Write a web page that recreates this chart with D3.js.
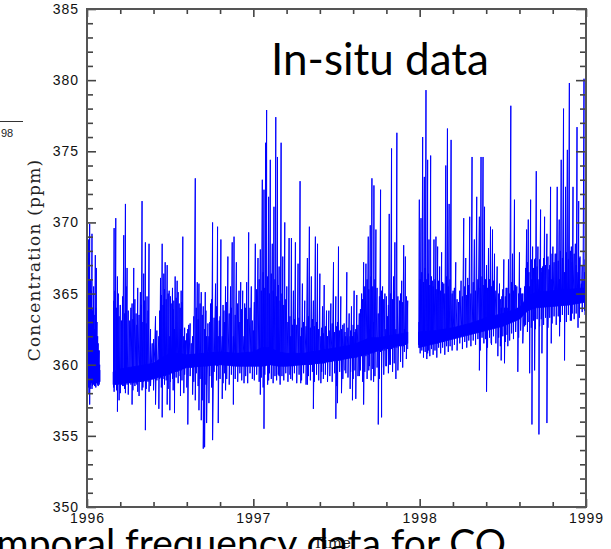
<!DOCTYPE html>
<html><head><meta charset="utf-8">
<script src="https://cdn.jsdelivr.net/npm/d3@7"></script>
<style>
html,body{margin:0;padding:0;background:#fff;overflow:hidden;}
svg{display:block;}
</style></head>
<body>
<svg id="chart" width="611" height="549"></svg>
<script>
// ---- data: [year, spike value, low value] (ppm) ----
const segment1 = [
[1996.002,366.0,358.5],[1996.006,367.5,358.0],[1996.010,368.8,358.4],[1996.016,369.9,357.2],
[1996.022,366.0,358.6],[1996.030,369.2,358.3],[1996.036,364.0,358.7],[1996.040,365.5,358.6],
[1996.046,362.5,358.5],[1996.050,367.7,358.5],[1996.056,366.8,358.7],[1996.064,362.0,358.6],
[1996.070,361.0,358.9],[1996.076,360.0,358.8]
];
const segment2 = [
[1996.163,369.6,358.1],[1996.173,370.3,358.6],[1996.183,366.2,356.7],[1996.193,363.4,357.5],
[1996.207,363.1,358.6],[1996.221,369.1,358.5],[1996.231,371.3,358.0],[1996.241,366.8,358.6],
[1996.257,363.1,358.7],[1996.271,364.3,357.2],[1996.281,366.8,358.7],[1996.295,363.6,358.7],
[1996.305,365.4,358.1],[1996.321,365.1,358.8],[1996.331,371.5,358.2],[1996.341,366.4,358.8],
[1996.351,368.6,355.4],[1996.361,364.8,358.9],[1996.373,368.5,358.1],[1996.392,361.5,359.0],
[1996.412,363.4,357.2],[1996.432,362.0,356.9],[1996.442,366.1,359.1],[1996.452,368.5,356.3],
[1996.462,366.4,359.2],[1996.470,367.2,359.2],[1996.482,367.0,357.2],[1996.494,365.2,359.3],
[1996.498,362.0,356.8],[1996.506,364.3,359.4],[1996.522,364.5,359.4],[1996.526,362.5,356.6],
[1996.530,366.2,359.5],[1996.542,365.9,359.5],[1996.554,364.3,359.6],[1996.562,362.5,357.8],
[1996.566,365.2,359.6],[1996.576,369.0,359.7],[1996.582,362.0,358.0],[1996.592,361.7,359.8],
[1996.606,362.5,355.8],[1996.612,362.8,359.8],[1996.627,361.5,359.8],[1996.635,362.0,357.9],
[1996.651,373.1,357.5],[1996.663,365.8,359.9],[1996.673,365.7,356.8],[1996.687,365.1,356.1],
[1996.699,364.1,354.1],[1996.707,362.5,354.2],[1996.711,365.1,359.9],[1996.719,362.0,355.9],
[1996.727,362.9,359.9],[1996.733,362.0,357.3],[1996.743,364.3,360.0],[1996.755,370.0,354.7],
[1996.773,365.7,360.0],[1996.785,369.7,359.9],[1996.789,362.0,355.9],[1996.795,363.1,360.0],
[1996.805,368.8,360.0],[1996.813,362.0,357.6],[1996.823,363.8,360.0],[1996.833,365.5,358.2],
[1996.847,367.6,360.0],[1996.863,365.5,360.0],[1996.873,368.6,359.9],[1996.880,362.0,357.2],
[1996.884,369.0,359.9],[1996.898,367.2,359.9],[1996.914,365.2,359.9],[1996.924,365.8,359.9],
[1996.936,365.2,359.9],[1996.944,362.0,358.7],[1996.948,364.3,359.9],[1996.960,365.8,359.9],
[1996.972,369.3,359.9],[1996.988,365.5,359.9],[1997.000,362.4,359.9],[1997.012,368.5,359.9],
[1997.028,367.5,359.9],[1997.042,368.1,357.9],[1997.054,373.0,359.9],[1997.064,372.3,355.5],
[1997.074,375.6,359.9],[1997.080,377.9,360.0],[1997.092,371.8,358.9],[1997.102,374.4,360.0],
[1997.114,368.5,360.0],[1997.124,371.1,360.0],[1997.135,377.4,360.0],[1997.145,374.6,360.0],
[1997.155,366.9,359.2],[1997.167,375.6,360.0],[1997.177,367.6,359.9],[1997.189,370.0,359.9],
[1997.201,365.5,359.9],[1997.215,368.9,359.9],[1997.225,362.0,359.0],[1997.229,368.9,359.9],
[1997.241,365.2,359.9],[1997.253,368.6,360.0],[1997.269,367.1,360.0],[1997.281,372.9,360.0],
[1997.285,362.0,358.7],[1997.295,365.7,360.0],[1997.309,364.5,360.0],[1997.325,367.5,358.6],
[1997.337,369.7,360.0],[1997.349,366.2,360.0],[1997.361,364.5,356.9],[1997.373,369.0,360.1],
[1997.386,368.5,360.1],[1997.400,366.4,360.1],[1997.406,362.0,358.7],[1997.416,364.1,360.1],
[1997.426,365.6,360.1],[1997.440,363.8,360.2],[1997.446,362.0,358.8],[1997.454,363.8,360.2],
[1997.466,364.3,360.2],[1997.482,367.2,360.3],[1997.496,364.8,356.2],[1997.506,363.0,357.3],
[1997.512,368.3,360.3],[1997.526,364.8,360.3],[1997.530,362.5,358.0],[1997.546,362.9,360.4],
[1997.556,362.0,359.4],[1997.562,366.5,360.4],[1997.576,363.6,360.5],[1997.582,362.0,358.3],
[1997.590,364.1,360.5],[1997.596,362.0,357.5],[1997.606,365.2,360.5],[1997.616,362.5,357.6],
[1997.622,364.9,360.5],[1997.637,363.6,359.2],[1997.651,365.0,360.6],[1997.663,367.2,357.2],
[1997.677,367.1,360.6],[1997.691,369.0,360.7],[1997.697,362.5,359.9],[1997.703,369.8,360.8],
[1997.713,373.1,360.8],[1997.723,363.0,358.8],[1997.725,372.6,360.8],[1997.737,369.5,360.9],
[1997.751,363.6,355.8],[1997.765,372.3,360.9],[1997.771,362.5,356.3],[1997.777,365.5,361.0],
[1997.791,365.0,361.0],[1997.797,362.5,359.9],[1997.807,363.4,361.1],[1997.817,370.6,360.0],
[1997.831,375.2,361.1],[1997.843,366.2,361.2],[1997.851,368.6,361.2],[1997.857,362.5,359.0],
[1997.863,376.3,361.2],[1997.879,364.5,361.3],[1997.892,365.9,361.3],[1997.904,368.4,361.3],
[1997.908,362.5,360.9],[1997.914,367.6,361.4],[1997.928,364.5,361.1]
];
const segment3 = [
[1997.995,363.0,361.4],[1997.998,371.6,361.4],[1998.008,370.3,361.5],[1998.018,376.0,361.5],
[1998.028,373.2,361.5],[1998.038,379.3,361.5],[1998.048,374.4,360.8],[1998.056,368.8,361.5],
[1998.066,374.7,361.5],[1998.076,365.9,361.5],[1998.086,368.8,361.6],[1998.098,369.0,361.6],
[1998.108,368.3,361.5],[1998.120,366.9,361.7],[1998.132,367.9,361.7],[1998.145,365.7,361.6],
[1998.157,374.0,361.8],[1998.167,376.6,361.8],[1998.177,371.3,361.8],[1998.189,375.8,361.9],
[1998.201,365.2,362.0],[1998.217,367.2,362.0],[1998.233,364.4,362.1],[1998.249,365.9,362.1],
[1998.265,370.3,362.2],[1998.277,367.5,362.2],[1998.289,366.1,362.3],[1998.301,370.4,362.3],
[1998.315,374.6,362.3],[1998.329,368.8,362.4],[1998.343,371.8,362.4],[1998.359,370.4,359.6],
[1998.369,374.6,362.5],[1998.381,374.6,362.5],[1998.390,371.1,362.5],[1998.402,367.0,358.1],
[1998.414,368.2,362.6],[1998.426,369.7,362.6],[1998.430,363.5,361.5],[1998.438,369.5,362.6],
[1998.450,367.8,362.7],[1998.466,366.9,362.7],[1998.470,363.5,360.6],[1998.480,365.7,362.8],
[1998.490,364.0,360.3],[1998.494,364.8,362.8],[1998.506,367.4,362.8],[1998.510,364.0,360.1],
[1998.520,365.4,362.9],[1998.530,364.0,361.3],[1998.534,367.4,362.9],[1998.548,378.2,363.0],
[1998.558,367.8,363.0],[1998.570,371.6,363.1],[1998.584,365.5,363.2],[1998.590,364.0,359.5],
[1998.600,367.9,363.3],[1998.614,365.0,363.4],[1998.631,365.5,362.7],[1998.643,369.5,363.8],
[1998.653,370.2,364.0],[1998.661,365.5,359.4],[1998.667,371.6,364.0],[1998.675,366.0,355.8],
[1998.679,368.3,364.0],[1998.691,367.4,359.6],[1998.701,373.6,364.1],[1998.711,368.3,364.1],
[1998.717,366.0,355.1],[1998.727,370.9,364.1],[1998.735,366.5,360.8],[1998.739,366.9,364.2],
[1998.751,370.4,364.2],[1998.765,369.2,355.9],[1998.777,366.7,364.2],[1998.787,372.5,364.3],
[1998.791,366.0,361.5],[1998.801,368.3,364.3],[1998.815,367.8,364.3],[1998.827,372.5,364.3],
[1998.839,370.2,364.4],[1998.841,366.0,362.0],[1998.851,374.4,364.4],[1998.865,378.0,364.4],
[1998.871,366.5,360.3],[1998.877,372.5,364.5],[1998.888,375.1,364.5],[1998.900,379.8,364.5],
[1998.912,368.3,363.1],[1998.922,372.5,364.6],[1998.936,368.5,364.6],[1998.946,376.7,364.6],
[1998.952,366.5,362.6],[1998.956,371.5,364.7],[1998.964,367.6,364.7],[1998.972,365.7,364.7],
[1998.982,365.9,364.8],[1998.988,380.1,364.8],[1998.992,366.5,363.8],[1998.998,366.0,364.5]
];
// smaller excursions between the large spikes: [year, high, low] (ppm)
const grass1 = [
[1996.004,364.5,358.6],[1996.013,365.0,358.9],[1996.019,364.2,358.3],[1996.026,365.2,358.8],
[1996.033,363.8,358.5],[1996.043,363.5,358.9],[1996.053,364.0,358.4],[1996.060,363.0,358.8],
[1996.067,361.5,358.5],[1996.073,361.0,358.6]
];
const grass2 = [
[1996.160,364.5,358.4],[1996.168,365.2,358.9],[1996.178,364.0,358.2],[1996.188,365.0,358.6],
[1996.200,364.2,358.0],[1996.214,364.8,358.5],[1996.226,363.6,358.3],[1996.236,365.5,358.7],
[1996.248,363.8,357.9],[1996.264,364.0,358.6],[1996.276,363.2,358.2],[1996.288,364.6,358.5],
[1996.300,362.8,358.6],[1996.313,363.5,357.8],[1996.326,364.2,358.8],[1996.336,363.0,358.4],
[1996.346,364.5,358.9],[1996.356,362.9,358.3],[1996.367,363.8,358.8],[1996.382,362.5,358.5],
[1996.400,361.8,358.2],[1996.420,362.4,358.9],[1996.437,363.8,359.0],[1996.447,364.9,358.4],
[1996.457,364.2,359.0],[1996.466,365.3,358.6],[1996.476,364.6,358.9],[1996.488,365.0,358.3],
[1996.502,364.8,358.8],[1996.514,365.4,359.0],[1996.518,363.9,358.2],[1996.536,364.7,359.1],
[1996.548,365.1,358.7],[1996.560,364.0,359.2],[1996.571,364.4,358.9],[1996.587,362.6,359.3],
[1996.600,362.2,358.4],[1996.620,362.9,359.2],[1996.642,363.4,358.8],[1996.657,364.0,359.4],
[1996.668,363.2,358.5],[1996.680,364.3,359.0],[1996.693,363.5,357.5],[1996.715,363.8,358.6],
[1996.738,363.0,359.2],[1996.749,364.6,358.4],[1996.764,363.3,359.5],[1996.779,364.1,358.9],
[1996.800,363.4,359.0],[1996.818,364.2,358.7],[1996.828,363.0,359.4],[1996.840,364.4,359.0],
[1996.855,363.6,358.6],[1996.868,364.0,359.3],[1996.891,363.5,359.0],[1996.906,364.3,358.8],
[1996.919,363.0,359.4],[1996.930,363.9,358.9],[1996.954,364.0,359.2],[1996.966,363.2,358.7],
[1996.980,364.0,359.4],[1996.994,363.1,359.0],[1997.006,364.4,358.9],[1997.020,365.3,359.3],
[1997.035,366.0,358.8],[1997.048,365.2,359.1],[1997.059,366.5,358.4],[1997.069,365.4,359.3],
[1997.086,366.2,358.6],[1997.097,365.0,359.4],[1997.108,366.4,359.0],[1997.119,365.2,358.7],
[1997.130,366.0,359.2],[1997.140,364.8,358.9],[1997.150,365.6,359.3],[1997.161,364.5,358.6],
[1997.172,365.0,359.2],[1997.183,364.2,358.9],[1997.195,364.6,359.4],[1997.208,363.0,358.8],
[1997.220,363.4,359.3],[1997.235,362.8,358.9],[1997.247,363.2,359.4],[1997.261,362.8,358.7],
[1997.275,363.3,359.3],[1997.290,362.6,358.9],[1997.302,363.0,359.4],[1997.317,362.7,358.6],
[1997.331,363.4,359.2],[1997.343,362.6,358.9],[1997.355,363.2,359.5],[1997.367,362.7,358.8],
[1997.380,363.0,359.3],[1997.393,362.5,358.9],[1997.411,362.6,359.5],[1997.421,362.2,359.0],
[1997.433,362.7,359.3],[1997.460,362.4,359.2],[1997.474,362.9,358.8],[1997.489,362.3,359.4],
[1997.501,362.7,358.5],[1997.519,362.4,359.5],[1997.538,362.8,359.0],[1997.551,362.3,359.6],
[1997.569,362.6,359.1],[1997.585,362.4,359.5],[1997.600,362.8,359.0],[1997.611,362.3,359.6],
[1997.629,362.8,359.2],[1997.644,363.9,359.6],[1997.657,364.6,358.8],[1997.670,365.5,359.5],
[1997.684,366.0,359.0],[1997.694,365.3,359.6],[1997.708,366.2,358.9],[1997.718,365.5,359.7],
[1997.731,366.0,359.2],[1997.744,365.4,359.8],[1997.758,364.8,359.0],[1997.771,365.2,359.8],
[1997.784,364.6,359.3],[1997.800,364.8,359.9],[1997.812,364.2,359.4],[1997.824,365.0,360.0],
[1997.837,364.6,359.5],[1997.847,365.2,360.1],[1997.869,364.8,359.6],[1997.885,365.0,360.2],
[1997.898,364.4,359.8],[1997.920,364.8,360.4]
];
const grass3 = [
[1998.003,366.0,360.8],[1998.013,366.5,361.0],[1998.023,365.8,360.5],[1998.033,366.8,360.9],
[1998.043,366.0,360.4],[1998.052,366.4,361.0],[1998.061,365.6,360.6],[1998.071,366.2,361.1],
[1998.081,365.5,360.7],[1998.092,366.0,361.0],[1998.103,365.3,360.5],[1998.114,365.9,361.2],
[1998.126,365.2,360.8],[1998.138,365.8,361.2],[1998.151,365.0,360.7],[1998.162,366.2,361.3],
[1998.172,365.5,360.9],[1998.183,366.0,361.3],[1998.195,365.0,361.0],[1998.209,365.4,361.4],
[1998.225,364.6,361.0],[1998.241,365.2,361.5],[1998.257,364.8,361.1],[1998.271,365.5,361.6],
[1998.283,364.9,361.2],[1998.295,365.6,361.7],[1998.308,365.0,361.3],[1998.322,365.8,361.7],
[1998.336,365.2,361.4],[1998.350,366.0,361.8],[1998.364,365.4,361.0],[1998.375,366.2,361.9],
[1998.386,365.6,361.5],[1998.396,366.0,361.8],[1998.408,365.4,361.2],[1998.420,366.0,361.9],
[1998.432,365.5,361.4],[1998.444,365.9,362.0],[1998.458,365.2,361.5],[1998.475,365.0,361.9],
[1998.485,364.6,361.3],[1998.500,365.3,362.0],[1998.515,364.8,361.6],[1998.525,365.4,362.1],
[1998.541,365.0,361.7],[1998.553,365.8,362.2],[1998.564,365.2,361.8],[1998.577,365.6,362.3],
[1998.595,365.0,361.9],[1998.607,365.4,362.4],[1998.620,365.0,361.5],[1998.637,366.8,362.8],
[1998.648,367.2,362.3],[1998.657,366.5,363.0],[1998.671,367.4,362.6],[1998.685,366.8,363.1],
[1998.696,367.5,362.5],[1998.706,366.9,363.2],[1998.721,367.4,362.7],[1998.731,366.8,363.2],
[1998.745,367.5,362.8],[1998.757,367.0,363.3],[1998.771,367.6,362.6],[1998.782,367.0,363.3],
[1998.796,367.8,362.9],[1998.808,367.2,363.4],[1998.821,367.8,362.8],[1998.833,367.3,363.4],
[1998.846,368.0,363.0],[1998.858,367.5,363.5],[1998.882,367.9,363.0],[1998.894,367.4,363.5],
[1998.906,368.0,363.1],[1998.917,367.2,363.6],[1998.929,367.8,363.2],[1998.941,367.0,363.6],
[1998.960,367.5,363.3],[1998.977,367.0,363.7],[1998.995,367.4,363.5]
];
// dense core band of the record: [year, lower edge, upper edge] (ppm)
const coreBand1 = [[1996.000,358.8,361.0],[1996.040,358.7,360.5],[1996.078,358.8,359.6]];
const coreBand2 = [
[1996.157,358.6,359.5],[1996.200,358.7,359.7],[1996.300,358.8,359.9],[1996.400,359.0,360.1],
[1996.450,359.2,360.5],[1996.500,359.4,360.8],[1996.550,359.6,360.8],[1996.600,359.8,360.7],
[1996.700,359.9,360.8],[1996.800,360.0,360.9],[1996.900,359.9,360.8],[1997.000,359.9,360.9],
[1997.050,359.9,361.2],[1997.100,360.0,361.2],[1997.150,359.9,360.9],[1997.200,359.9,360.8],
[1997.300,360.0,360.8],[1997.400,360.1,361.0],[1997.500,360.3,361.2],[1997.600,360.5,361.4],
[1997.700,360.8,361.9],[1997.750,361.0,361.9],[1997.800,361.2,362.0],[1997.900,361.4,362.2],
[1997.928,361.5,362.3]
];
const coreBand3 = [
[1997.994,361.2,362.3],[1998.100,361.5,362.4],[1998.200,361.8,362.6],[1998.300,362.1,362.9],
[1998.400,362.4,363.3],[1998.500,362.7,363.6],[1998.600,363.2,364.0],[1998.650,363.8,364.8],
[1998.700,364.0,365.1],[1998.800,364.1,365.2],[1998.900,364.2,365.3],[1999.000,364.4,365.4]
];
const yearTicks = [1996, 1997, 1998, 1999];
const ppmTicks = [350, 355, 360, 365, 370, 375, 380, 385];
const xTitle = "Time";
const yTitle = "Concentration (ppm)";
const panelLabel = "In-situ data";
const slideText = "Temporal frequency data for CO";

// ---- drawing ----
const svg = d3.select("#chart");
const L = 87, R = 586, T = 9, B = 507;
const x = d3.scaleLinear().domain([1996, 1999]).range([L, R]);
const y = d3.scaleLinear().domain([350, 385]).range([B, T]);
const blue = "#0000ff";

const g = svg.append("g");
svg.append("clipPath").attr("id","pc").append("rect")
  .attr("x",L).attr("y",T).attr("width",R-L).attr("height",B-T);

const area = d3.area().x(d=>x(d[0])).y0(d=>y(d[1])).y1(d=>y(d[2]));
const line = d3.line().x(d=>x(d[0])).y(d=>y(d[1]));
const plot = g.append("g").attr("clip-path","url(#pc)");
[coreBand1, coreBand2, coreBand3].forEach(b=>{
  plot.append("path").attr("d", area(b)).attr("fill", blue).attr("stroke", blue).attr("stroke-width",0.8);
});
[[segment1, grass1], [segment2, grass2], [segment3, grass3]].forEach(([seg, gr])=>{
  const all = seg.concat(gr).sort((a,b)=>a[0]-b[0]);
  const pts = [];
  all.forEach(s=>{ pts.push([s[0], s[1]]); pts.push([s[0], s[2]]); });
  plot.append("path").attr("d", line(pts)).attr("fill","none")
    .attr("stroke", blue).attr("stroke-width", 1).attr("stroke-linejoin","miter");
});

// axes
const tickColor = "#444";
const minorY = d3.range(350, 386, 1).filter(v=>v%5!==0);
const minorX = d3.range(0, 16).map(i=>1996 + i*0.2).filter(v=>Math.abs(v-Math.round(v))>1e-6);
function styleAxis(sel){ sel.select(".domain").remove(); sel.selectAll("line").attr("stroke",tickColor).attr("stroke-width",1.6);
  sel.selectAll("text").attr("fill","#111").style("font-family","'Liberation Sans', Arial, sans-serif").style("font-size","14px").attr("letter-spacing","1"); }

g.append("g").attr("transform",`translate(${L},0)`)
  .call(d3.axisLeft(y).tickValues(ppmTicks).tickSizeInner(-9).tickSizeOuter(0).tickPadding(8).tickFormat(d3.format("d")))
  .call(styleAxis);
g.append("g").attr("transform",`translate(${L},0)`)
  .call(d3.axisLeft(y).tickValues(minorY).tickSizeInner(-6).tickSizeOuter(0).tickFormat(""))
  .call(styleAxis);
g.append("g").attr("transform",`translate(${R},0)`)
  .call(d3.axisRight(y).tickValues(ppmTicks).tickSizeInner(-10).tickSizeOuter(0).tickFormat(""))
  .call(styleAxis);
g.append("g").attr("transform",`translate(${R},0)`)
  .call(d3.axisRight(y).tickValues(minorY).tickSizeInner(-6).tickSizeOuter(0).tickFormat(""))
  .call(styleAxis);
g.append("g").attr("transform",`translate(0,${B})`)
  .call(d3.axisBottom(x).tickValues(yearTicks).tickSizeInner(-8).tickSizeOuter(0).tickPadding(6).tickFormat(d3.format("d")))
  .call(styleAxis);
g.append("g").attr("transform",`translate(0,${B})`)
  .call(d3.axisBottom(x).tickValues(minorX).tickSizeInner(-5).tickSizeOuter(0).tickFormat(""))
  .call(styleAxis);
g.append("g").attr("transform",`translate(0,${T})`)
  .call(d3.axisTop(x).tickValues(yearTicks).tickSizeInner(-8).tickSizeOuter(0).tickFormat(""))
  .call(styleAxis);
g.append("g").attr("transform",`translate(0,${T})`)
  .call(d3.axisTop(x).tickValues(minorX).tickSizeInner(-5).tickSizeOuter(0).tickFormat(""))
  .call(styleAxis);

// frame
g.append("rect").attr("x",L).attr("y",T).attr("width",R-L).attr("height",B-T)
  .attr("fill","none").attr("stroke","#555").attr("stroke-width",2);

// titles
g.append("text").attr("transform",`translate(40,${(T+B)/2+2}) rotate(-90)`)
  .attr("text-anchor","middle").style("font-family","'DejaVu Serif', serif").style("font-size","17px")
  .attr("letter-spacing","1.2").attr("fill","#222").text(yTitle);
g.append("text").attr("x",332).attr("y",548).attr("text-anchor","middle")
  .style("font-family","'DejaVu Serif', serif").style("font-size","15px").attr("fill","#222").text(xTitle);

// overlaid slide texts
svg.append("text").attr("x",380).attr("y",75).attr("text-anchor","middle")
  .style("font-family","Lato, sans-serif").style("font-size","44px").attr("fill","#000").text(panelLabel);
svg.append("text").attr("x",506).attr("y",557).attr("text-anchor","end")
  .style("font-family","Lato, sans-serif").style("font-size","39px").attr("fill","#000").text(slideText);
// slide remnants at the left edge
svg.append("line").attr("x1",0).attr("x2",23).attr("y1",121.5).attr("y2",121.5).attr("stroke","#333").attr("stroke-width",1);
svg.append("text").attr("x",1).attr("y",137)
  .style("font-family","'Liberation Sans', sans-serif").style("font-size","11px").attr("fill","#222").text("98");
</script>
</body></html>
